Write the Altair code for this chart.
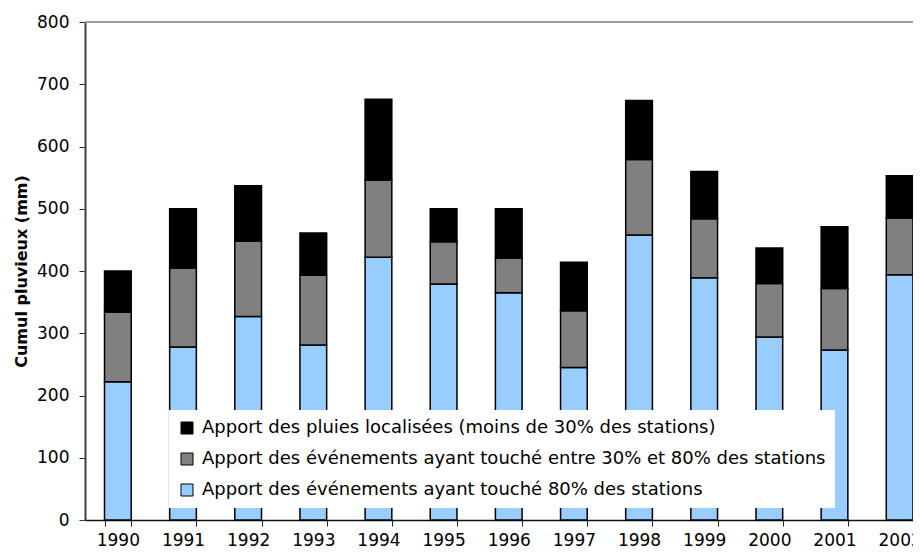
import altair as alt
import pandas as pd

years = [str(y) for y in range(1990, 2003)]
apport_80 = [222, 278, 327, 281, 422, 379, 365, 245, 458, 389, 294, 273, 394]
apport_30_80 = [112, 127, 121, 112, 124, 68, 56, 91, 121, 95, 86, 99, 91]
apport_local = [66, 95, 89, 68, 130, 53, 79, 78, 95, 76, 57, 99, 68]

s_local = "Apport des pluies localisées (moins de 30% des stations)"
s_mid = "Apport des événements ayant touché entre 30% et 80% des stations"
s_80 = "Apport des événements ayant touché 80% des stations"
series = [s_local, s_mid, s_80]
colors = ["#000000", "#808080", "#99CCFF"]

rows = []
for i, y in enumerate(years):
    rows.append({"year": y, "serie": s_80, "value": apport_80[i], "ord": 0})
    rows.append({"year": y, "serie": s_mid, "value": apport_30_80[i], "ord": 1})
    rows.append({"year": y, "serie": s_local, "value": apport_local[i], "ord": 2})
df = pd.DataFrame(rows)

FONT = "DejaVu Sans"
W, H = 828, 498

bars = alt.Chart(df).mark_bar(stroke="black", strokeWidth=1.5).encode(
    x=alt.X(
        "year:N",
        sort=years,
        scale=alt.Scale(paddingInner=0.59, paddingOuter=0.1497, align=1),
        axis=alt.Axis(
            title=None, labelAngle=0, tickBand="extent", tickSize=6,
            tickColor="#222222", domainColor="#111111", domainWidth=1.5,
            labelPadding=6, labelFontSize=17, labelFont=FONT, labelColor="black",
        ),
    ),
    y=alt.Y(
        "value:Q",
        stack="zero",
        scale=alt.Scale(domain=[0, 800], nice=False),
        axis=alt.Axis(
            title="Cumul pluvieux (mm)", values=list(range(0, 801, 100)),
            grid=False, tickSize=6, tickColor="#333333", domainColor="#404040",
            domainWidth=2, labelPadding=10, labelFontSize=17, labelFont=FONT,
            labelColor="black", titleFont=FONT, titleFontSize=16,
            titleFontWeight="bold", titleColor="black", titlePadding=7,
        ),
    ),
    color=alt.Color(
        "serie:N",
        scale=alt.Scale(domain=series, range=colors),
        legend=alt.Legend(
            title=None, orient="none", legendX=84, legendY=388,
            fillColor="white", padding=9, symbolType="square", symbolSize=144,
            symbolStrokeColor="black", symbolStrokeWidth=1, labelFontSize=18,
            labelFont=FONT, labelColor="black", rowPadding=13, labelLimit=0,
            labelOffset=6,
        ),
    ),
    order=alt.Order("ord:Q", sort="ascending"),
)

top = alt.Chart(df).mark_rule(color="#9a9a9a", strokeWidth=2).encode(
    y=alt.datum(800)
)

chart = alt.layer(top, bars).properties(
    width=W, height=H,
    autosize=alt.AutoSizeParams(type="none"),
    padding={"left": 77, "top": 14, "right": 0, "bottom": 31},
).configure_view(stroke=None).configure(background="white")

chart.save("out.html", embed_options={"renderer": "svg", "actions": False})
